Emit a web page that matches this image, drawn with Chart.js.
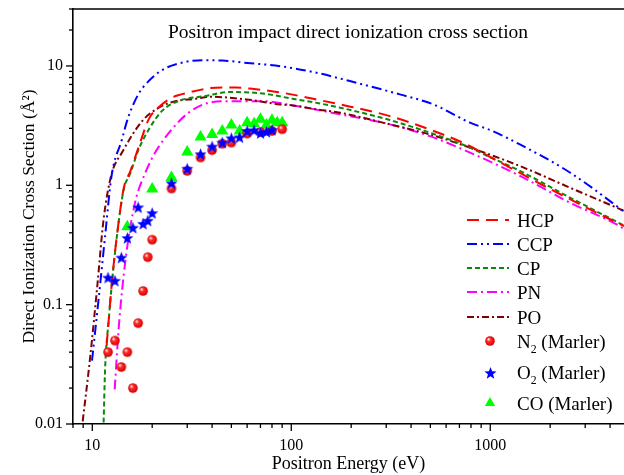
<!DOCTYPE html>
<html>
<head>
<meta charset="utf-8">
<title>Positron impact direct ionization cross section</title>
<script src="https://cdn.jsdelivr.net/npm/chart.js@4.4.1/dist/chart.umd.min.js"></script>
<style>
  html, body { margin: 0; padding: 0; background: #fff; }
  #wrap { width: 624px; height: 475px; }
</style>
</head>
<body>
<div id="wrap"><canvas id="csChart"></canvas></div>
<script>
// axis ticks (labelled majors, minors are k * 10^n)
const xMajorTicks = [10, 100, 1000];
const yMajorTicks = [0.01, 0.1, 1, 10];

// theory curves: energy (eV) / cross section (A^2)
const hcpEnergy = [11.8, 12.1, 12.6, 13.3, 14.4, 15.5, 17.4, 19.2, 22.2, 25, 30.5, 38.5, 45, 53, 65, 84.5, 100, 129, 176, 313, 479, 760, 1000, 1409, 2000, 3700, 4700];
const hcpValues = [0.045, 0.075, 0.165, 0.38, 0.95, 1.3, 2.28, 3.57, 4.7, 5.4, 5.98, 6.5, 6.6, 6.6, 6.4, 6.06, 5.78, 5.3, 4.76, 3.8, 3.0, 2.2, 1.72, 1.27, 0.93, 0.553, 0.456];

const ccpEnergy = [9.97, 10.8, 11.6, 12.5, 14.1, 14.9, 15.8, 17, 18.1, 22, 27.2, 36, 45, 60, 88, 134, 197, 351, 520, 790, 1000, 1409, 2512, 4315, 4700];
const ccpValues = [0.034, 0.118, 0.376, 1.2, 2.43, 3.4, 4.45, 5.75, 6.7, 9.05, 10.5, 11.15, 11.1, 10.6, 9.96, 8.77, 7.47, 5.78, 4.75, 3.35, 2.9, 2.2, 1.28, 0.67, 0.6];

const cpEnergy = [11.4, 11.6, 12.1, 12.6, 13.3, 14.4, 15.5, 17.1, 19.5, 22.4, 27.2, 37, 49, 72, 102, 130, 176, 313, 497, 760, 1000, 1409, 2512, 4700];
const cpValues = [0.0103, 0.029, 0.075, 0.163, 0.376, 0.93, 1.25, 2.0, 3.05, 4.2, 5.09, 5.6, 6.05, 5.87, 5.3, 4.95, 4.47, 3.52, 2.76, 2.13, 1.72, 1.32, 0.79, 0.46];

const pnEnergy = [12.96, 13.6, 14.7, 16.4, 18.5, 20.7, 25.1, 30.5, 38.5, 49, 72, 102, 176, 313, 497, 791, 1409, 2512, 4315, 4700];
const pnValues = [0.0195, 0.066, 0.24, 0.716, 1.28, 1.88, 2.94, 4.06, 4.92, 5.07, 5.07, 4.67, 3.93, 3.24, 2.58, 1.88, 1.2, 0.716, 0.47, 0.43];

const poEnergy = [8.95, 9.77, 10.6, 11.4, 12.5, 14.1, 17.8, 21.6, 26.1, 33, 39, 59.7, 87.7, 102, 134, 176, 313, 497, 791, 1409, 2512, 4315, 4700];
const poValues = [0.0105, 0.037, 0.144, 0.52, 1.24, 1.88, 3.45, 4.47, 5.07, 5.3, 5.52, 5.24, 4.76, 4.67, 4.33, 4.06, 3.24, 2.67, 2.07, 1.45, 0.956, 0.65, 0.61];

// Marler measurements
const n2Energy = [12, 13, 14, 15, 16, 17, 18, 19, 20, 25, 30, 35, 40, 45, 50, 60, 70, 80, 90];
const n2Values = [0.04, 0.05, 0.03, 0.04, 0.02, 0.07, 0.13, 0.25, 0.35, 0.94, 1.32, 1.71, 1.97, 2.23, 2.28, 2.71, 2.8, 2.85, 2.95];

const o2Energy = [12, 13, 14, 15, 16, 17, 18, 19, 20, 25, 30, 35, 40, 45, 50, 55, 60, 65, 70, 75, 80];
const o2Values = [0.17, 0.16, 0.25, 0.365, 0.445, 0.66, 0.48, 0.51, 0.59, 1.05, 1.39, 1.84, 2.13, 2.3, 2.5, 2.55, 2.88, 2.92, 2.76, 2.83, 2.94];

const coEnergy = [15, 20, 25, 30, 35, 40, 45, 50, 55, 60, 65, 70, 75, 80, 85, 90];
const coValues = [0.45, 0.93, 1.16, 1.9, 2.54, 2.67, 2.85, 3.2, 2.85, 3.35, 3.28, 3.57, 3.2, 3.5, 3.35, 3.35];

const SERIF = "'Liberation Serif', 'Times New Roman', serif";

const toPoints = (xs, ys) => xs.map((x, i) => ({ x, y: ys[i] }));

function makeSphere(r) {
  const c = document.createElement("canvas");
  const size = Math.ceil(r * 2 + 2);
  c.width = c.height = size;
  const g = c.getContext("2d");
  const m = size / 2;
  const grad = g.createRadialGradient(m - r * 0.35, m - r * 0.4, r * 0.1, m, m, r);
  grad.addColorStop(0, "#ffd8d8");
  grad.addColorStop(0.35, "#ff2a2a");
  grad.addColorStop(1, "#d40000");
  g.fillStyle = grad;
  g.beginPath();
  g.arc(m, m, r, 0, Math.PI * 2);
  g.fill();
  return c;
}

function makeStar(r, color) {
  const c = document.createElement("canvas");
  const size = Math.ceil(r * 2 + 2);
  c.width = c.height = size;
  const g = c.getContext("2d");
  const m = size / 2;
  g.fillStyle = color;
  g.beginPath();
  for (let i = 0; i < 10; i++) {
    const rr = i % 2 ? r * 0.42 : r;
    const a = -Math.PI / 2 + (i * Math.PI) / 5;
    const px = m + Math.cos(a) * rr;
    const py = m + 1 + Math.sin(a) * rr;
    if (i === 0) g.moveTo(px, py);
    else g.lineTo(px, py);
  }
  g.closePath();
  g.fill();
  return c;
}

const sphere = makeSphere(4.8);
const star = makeStar(6.4, "#0000ff");

function logTicks(min, max) {
  const out = [];
  for (let e = Math.floor(Math.log10(min)); e <= Math.ceil(Math.log10(max)); e++) {
    for (let k = 1; k <= 9; k++) {
      const v = Number((k * Math.pow(10, e)).toPrecision(4));
      if (v >= min && v <= max) out.push({ value: v });
    }
  }
  return out;
}

// fixed axis box, no extra room for the end labels
function pinAxis(scale, size) {
  if (scale.isHorizontal()) scale.height = size;
  else scale.width = size;
  scale.paddingLeft = 0;
  scale.paddingRight = 0;
  scale.paddingTop = 0;
  scale.paddingBottom = 0;
}

const lineDefaults = {
  borderWidth: 2,
  pointRadius: 0,
  fill: false,
  cubicInterpolationMode: "monotone",
};

const datasets = [
  { label: "HCP", data: toPoints(hcpEnergy, hcpValues), borderColor: "#ff0000", borderDash: [12, 7], order: 4, ...lineDefaults },
  { label: "CCP", data: toPoints(ccpEnergy, ccpValues), borderColor: "#0000ff", borderDash: [10, 4, 2, 4, 2, 4], order: 6, ...lineDefaults },
  { label: "CP", data: toPoints(cpEnergy, cpValues), borderColor: "#0a8a0a", borderDash: [5, 3], order: 5, ...lineDefaults },
  { label: "PN", data: toPoints(pnEnergy, pnValues), borderColor: "#ff00ff", borderDash: [10, 4, 2, 4], order: 8, ...lineDefaults },
  { label: "PO", data: toPoints(poEnergy, poValues), borderColor: "#800000", borderDash: [7, 3, 2, 3], order: 7, ...lineDefaults },
  { label: "N2 (Marler)", data: toPoints(n2Energy, n2Values), showLine: false, pointStyle: sphere, pointRadius: 5, backgroundColor: "#ff0000", borderWidth: 0, order: 2 },
  { label: "O2 (Marler)", data: toPoints(o2Energy, o2Values), showLine: false, pointStyle: star, pointRadius: 6, backgroundColor: "#0000ff", borderWidth: 0, order: 1 },
  { label: "CO (Marler)", data: toPoints(coEnergy, coValues), showLine: false, pointStyle: "triangle", pointRadius: 7, backgroundColor: "#00ff00", borderColor: "#00ff00", borderWidth: 0, order: 3 },
];

// label text with chemical subscripts (N2 -> N + lowered 2)
function drawRichLabel(ctx, text, x, y, size) {
  const m = text.match(/^([A-Z]+)(\d)(.*)$/);
  ctx.textAlign = "left";
  ctx.textBaseline = "alphabetic";
  ctx.font = `${size}px ${SERIF}`;
  if (!m) {
    ctx.fillText(text, x, y);
    return;
  }
  ctx.fillText(m[1], x, y);
  let cx = x + ctx.measureText(m[1]).width;
  ctx.font = `${size * 0.62}px ${SERIF}`;
  ctx.fillText(m[2], cx, y + size * 0.28);
  cx += ctx.measureText(m[2]).width;
  ctx.font = `${size}px ${SERIF}`;
  ctx.fillText(m[3], cx, y);
}

const legendRows = [220, 244, 268, 292, 317, 341, 372, 403];

const decorPlugin = {
  id: "decor",
  afterDraw(chart) {
    const { ctx, chartArea: area, scales } = chart;
    ctx.save();

    // top frame
    ctx.strokeStyle = "#000";
    ctx.lineWidth = 1.6;
    ctx.beginPath();
    ctx.moveTo(area.left - 0.8, area.top);
    ctx.lineTo(area.right, area.top);
    ctx.stroke();

    // tick marks, outward, longer on decades
    ctx.lineWidth = 1.3;
    scales.x.ticks.forEach((t) => {
      const px = scales.x.getPixelForValue(t.value);
      const len = xMajorTicks.includes(t.value) ? 7 : 4;
      ctx.beginPath();
      ctx.moveTo(px, area.bottom);
      ctx.lineTo(px, area.bottom + len);
      ctx.stroke();
    });
    scales.y.ticks.forEach((t) => {
      const py = scales.y.getPixelForValue(t.value);
      const len = yMajorTicks.includes(t.value) ? 7 : 4;
      ctx.beginPath();
      ctx.moveTo(area.left, py);
      ctx.lineTo(area.left - len, py);
      ctx.stroke();
    });

    // title inside the plot
    ctx.fillStyle = "#000";
    ctx.font = `19.5px ${SERIF}`;
    ctx.textAlign = "center";
    ctx.textBaseline = "alphabetic";
    ctx.fillText("Positron impact direct ionization cross section", 348, 38);

    // legend
    chart.data.datasets.forEach((ds, i) => {
      const y = legendRows[i];
      if (ds.showLine === false) {
        const ps = ds.pointStyle;
        if (ps instanceof HTMLCanvasElement) {
          ctx.drawImage(ps, Math.round(490 - ps.width / 2), Math.round(y - ps.height / 2));
        } else {
          const r = 6;
          ctx.fillStyle = ds.backgroundColor;
          ctx.beginPath();
          ctx.moveTo(490, y - r);
          ctx.lineTo(490 + r * 0.866, y + r * 0.5);
          ctx.lineTo(490 - r * 0.866, y + r * 0.5);
          ctx.closePath();
          ctx.fill();
        }
      } else {
        ctx.strokeStyle = ds.borderColor;
        ctx.lineWidth = ds.borderWidth;
        ctx.setLineDash(ds.borderDash);
        ctx.beginPath();
        ctx.moveTo(467, y);
        ctx.lineTo(509, y);
        ctx.stroke();
        ctx.setLineDash([]);
      }
      ctx.fillStyle = "#000";
      drawRichLabel(ctx, ds.label, 517, y + 6.5, 19);
    });

    ctx.restore();
  },
};

const ctx = document.getElementById("csChart").getContext("2d");
new Chart(ctx, {
  type: "line",
  data: { datasets },
  options: {
    responsive: true,
    maintainAspectRatio: false,
    animation: false,
    devicePixelRatio: 1,
    layout: { autoPadding: false, padding: { top: 9, right: 0, bottom: 0, left: 0 } },
    plugins: {
      legend: { display: false },
      tooltip: { enabled: false },
    },
    scales: {
      x: {
        type: "logarithmic",
        min: 8,
        max: 4700,
        afterBuildTicks: (scale) => {
          scale.ticks = logTicks(8, 4000);
        },
        afterFit: (scale) => pinAxis(scale, 51),
        grid: { display: false, drawTicks: false },
        border: { display: true, color: "#000", width: 1.6 },
        ticks: {
          autoSkip: false,
          maxRotation: 0,
          padding: 12,
          color: "#000",
          font: { family: SERIF, size: 16 },
          callback: (value) => (xMajorTicks.includes(value) ? String(value) : ""),
        },
        title: {
          display: true,
          text: "Positron Energy (eV)",
          color: "#000",
          font: { family: SERIF, size: 18 },
          padding: { top: 0, bottom: 0 },
        },
      },
      y: {
        type: "logarithmic",
        min: 0.01,
        max: 30,
        afterBuildTicks: (scale) => {
          scale.ticks = logTicks(0.01, 30);
        },
        afterFit: (scale) => pinAxis(scale, 73),
        grid: { display: false, drawTicks: false },
        border: { display: true, color: "#000", width: 1.6 },
        ticks: {
          autoSkip: false,
          padding: 10,
          color: "#000",
          font: { family: SERIF, size: 16 },
          callback: (value) => (yMajorTicks.includes(value) ? String(value) : ""),
        },
        title: {
          display: true,
          text: "Direct Ionization Cross Section (Å²)",
          color: "#000",
          font: { family: SERIF, size: 17.5 },
          padding: { top: 19, bottom: 0 },
        },
      },
    },
  },
  plugins: [decorPlugin],
});
</script>
</body>
</html>
